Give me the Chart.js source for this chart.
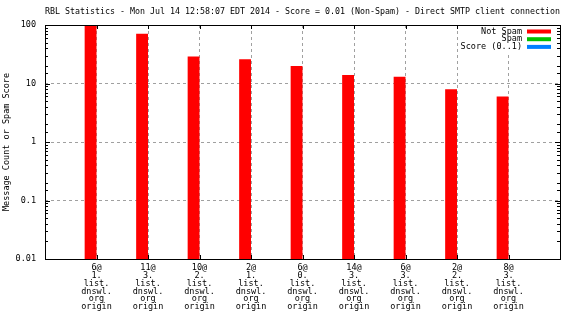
<!DOCTYPE html>
<html>
<head>
<meta charset="utf-8">
<script src="https://cdn.jsdelivr.net/npm/chart.js@4.4.1/dist/chart.umd.min.js"></script>
<style>
  html, body { margin: 0; padding: 0; background: #fff; }
</style>
</head>
<body>
<canvas id="chart" width="576" height="324"></canvas>
<script>
// RBL hits per dnswl list entry
const hosts = ['6@', '11@', '10@', '2@', '6@', '14@', '6@', '2@', '8@'];
const listIdx = ['1.', '3.', '2.', '1.', '0.', '3.', '3.', '2.', '3.'];
const notSpam = [100, 71, 29, 26, 20, 14, 13, 8, 6];
const spam = [];
const score = [];
const yTicks = [0.01, 0.1, 1, 10, 100];

const mono = 'DejaVu Sans Mono';
const isDecade = v => yTicks.some(t => Math.abs(t - v) < t * 1e-6);

// gnuplot puts the categories at 1..n inside a 0..n+1 range
const labels = [''].concat(hosts.map((h, i) => [h, listIdx[i], 'list.', 'dnswl.', 'org', 'origin']), ['']);
const pad = arr => [null].concat(hosts.map((h, i) => (arr[i] === undefined ? null : arr[i])), [null]);

// frame, inward tics and the key box inside the plot
const gnuFrame = {
    id: 'gnuFrame',
    afterDatasetsDraw(chart) {
        const { ctx, chartArea: a, scales: { x, y } } = chart;
        ctx.save();
        ctx.strokeStyle = '#000';
        ctx.lineWidth = 1;
        ctx.beginPath();
        y.ticks.forEach(t => {
            const py = Math.round(y.getPixelForValue(t.value)) + 0.5;
            const len = isDecade(t.value) ? 5 : 3;
            ctx.moveTo(a.left, py); ctx.lineTo(a.left + len, py);
            ctx.moveTo(a.right, py); ctx.lineTo(a.right - len, py);
        });
        for (let i = 1; i <= hosts.length; i++) {
            const px = Math.round(x.getPixelForValue(i)) + 0.5;
            ctx.moveTo(px, a.top); ctx.lineTo(px, a.top + 4);
            ctx.moveTo(px, a.bottom); ctx.lineTo(px, a.bottom - 4);
        }
        ctx.stroke();

        // key
        ctx.fillStyle = '#fff';
        ctx.fillRect(a.right - 98, a.top + 1, 92, 26);
        ctx.font = '8.5px "' + mono + '"';
        ctx.textAlign = 'right';
        ctx.textBaseline = 'middle';
        chart.data.datasets.forEach((ds, i) => {
            const ly = a.top + 6.5 + i * 7.7;
            ctx.fillStyle = '#000';
            ctx.fillText(ds.label, a.right - 38, ly);
            ctx.fillStyle = ds.backgroundColor;
            ctx.fillRect(a.right - 33, ly - 2, 24, 4);
        });

        ctx.strokeStyle = '#000';
        ctx.strokeRect(Math.round(a.left) + 0.5, Math.round(a.top) + 0.5,
            Math.round(a.right - a.left), Math.round(a.bottom - a.top));
        ctx.restore();
    }
};

const ctx = document.getElementById('chart').getContext('2d');
new Chart(ctx, {
    type: 'bar',
    data: {
        labels: labels,
        datasets: [
            { label: 'Not Spam', data: pad(notSpam), backgroundColor: '#ff0000' },
            { label: 'Spam', data: pad(spam), backgroundColor: '#00c000' },
            { label: 'Score (0..1)', data: pad(score), backgroundColor: '#0080ff', grouped: false }
        ]
    },
    options: {
        responsive: false,
        animation: false,
        layout: { padding: { left: 0, right: 16, top: 0, bottom: 0 } },
        datasets: { bar: { categoryPercentage: 0.46, barPercentage: 1, borderWidth: 0 } },
        plugins: {
            legend: { display: false },
            tooltip: { enabled: false },
            title: {
                display: true,
                fullSize: false,
                text: 'RBL Statistics - Mon Jul 14 12:58:07 EDT 2014 - Score = 0.01 (Non-Spam) - Direct SMTP client connection',
                color: '#000',
                font: { family: mono, size: 8.5, weight: 'normal', lineHeight: 1.2 },
                padding: { top: 7, bottom: 7.8 }
            }
        },
        scales: {
            x: {
                type: 'category',
                offset: false,
                afterFit: s => { s.height = 65; },
                border: { display: false, dash: [3, 3] },
                grid: {
                    offset: false,
                    drawTicks: false,
                    color: c => (c.index >= 1 && c.index <= hosts.length ? '#a0a0a0' : 'rgba(0,0,0,0)')
                },
                ticks: {
                    autoSkip: false,
                    maxRotation: 0,
                    minRotation: 0,
                    padding: 5,
                    color: '#000',
                    font: { family: mono, size: 8.5, lineHeight: 0.92 }
                }
            },
            y: {
                type: 'logarithmic',
                min: yTicks[0],
                max: yTicks[yTicks.length - 1],
                afterFit: s => { s.width = 45; },
                border: { display: false, dash: [3, 3] },
                grid: {
                    drawTicks: false,
                    color: c => {
                        const v = c.tick.value;
                        return isDecade(v) && v > yTicks[0] && v < yTicks[yTicks.length - 1] ? '#a0a0a0' : 'rgba(0,0,0,0)';
                    }
                },
                ticks: {
                    autoSkip: false,
                    padding: 9,
                    color: '#000',
                    font: { family: mono, size: 8.5 },
                    callback: v => (isDecade(v) ? String(v) : '')
                },
                title: {
                    display: true,
                    text: 'Message Count or Spam Score',
                    color: '#000',
                    font: { family: mono, size: 8.5, lineHeight: 1.2 },
                    padding: { top: 2, bottom: 0 }
                }
            }
        }
    },
    plugins: [gnuFrame]
});
</script>
</body>
</html>
